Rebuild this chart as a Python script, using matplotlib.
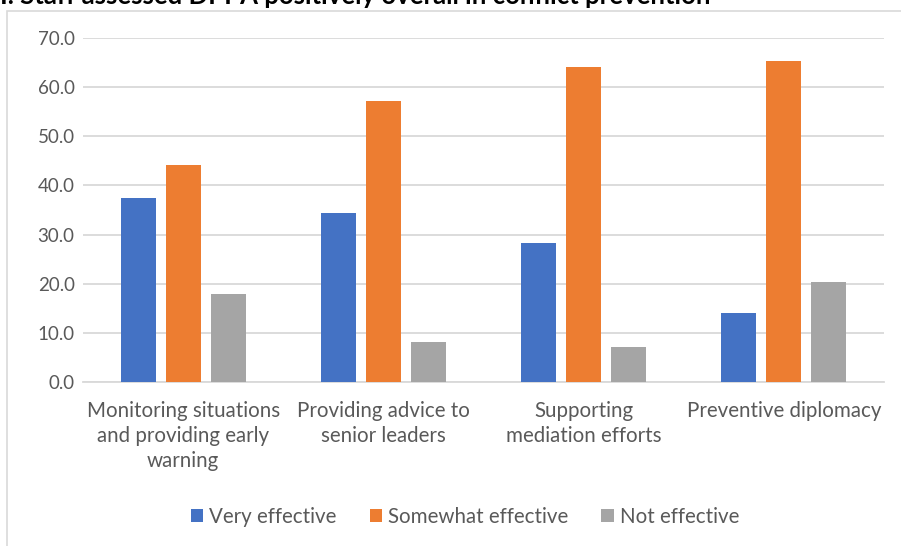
import matplotlib.pyplot as plt
from matplotlib.patches import Rectangle
import numpy as np

plt.rcParams['font.family'] = ['Lato', 'DejaVu Sans']

categories = ['Monitoring situations\nand providing early\nwarning',
              'Providing advice to\nsenior leaders',
              'Supporting\nmediation efforts',
              'Preventive diplomacy']
very_effective = [37.4, 34.3, 28.3, 14.0]
somewhat_effective = [44.1, 57.1, 64.2, 65.3]
not_effective = [17.9, 8.1, 7.1, 20.4]
yticks = [0, 10, 20, 30, 40, 50, 60, 70]

series = [('Very effective', very_effective, '#4472C4'),
          ('Somewhat effective', somewhat_effective, '#ED7D31'),
          ('Not effective', not_effective, '#A5A5A5')]

fig = plt.figure(figsize=(9.01, 5.46), dpi=100)
ax = fig.add_axes([0.0921, 0.3004, 0.8890, 0.6300])

x = np.arange(len(categories))
width = 0.175
offsets = [-0.225, 0.0, 0.225]
for (name, vals, col), off in zip(series, offsets):
    ax.bar(x + off, vals, width, color=col, label=name, zorder=3)

ax.set_xlim(-0.5, 3.5)
ax.set_ylim(0, 70)
ax.set_yticks(yticks)
ax.set_yticklabels([f'{v:.1f}' for v in yticks])
ax.set_xticks(x)
ax.set_xticklabels(categories, linespacing=1.32)
ax.grid(axis='y', color='#D9D9D9', linewidth=1.3, zorder=0)
for s in ['top', 'right', 'left']:
    ax.spines[s].set_visible(False)
ax.spines['bottom'].set_color('#D9D9D9')
ax.spines['bottom'].set_linewidth(1.3)
ax.tick_params(axis='both', length=0, colors='#595959')
ax.tick_params(axis='x', pad=13.5, labelsize=14.8)
ax.tick_params(axis='y', pad=6, labelsize=13.5)

ax.legend(loc='center', bbox_to_anchor=(0.477, -0.392), ncol=3, frameon=False,
          fontsize=14.8, handlelength=0.6, handleheight=0.6, handletextpad=0.3,
          columnspacing=1.6, labelcolor='#595959')

# chart frame, running off the right and bottom edges
fig.patches.append(Rectangle((7 / 901, -0.05), 1.0, 1.05 - 11 / 546,
                             transform=fig.transFigure, fill=False,
                             edgecolor='#D9D9D9', linewidth=1.2))

fig.text(0.0, 1.0 - 4 / 546, 'I. Staff assessed DPPA positively overall in conflict prevention',
         fontsize=18.5, fontweight='bold', color='black', va='baseline', ha='left')

fig.savefig('out.png', dpi=100)
